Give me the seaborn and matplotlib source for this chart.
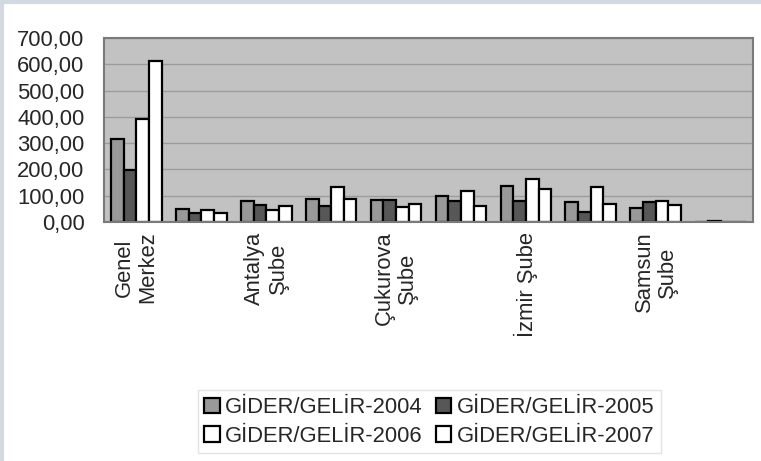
import numpy as np
import pandas as pd
import matplotlib as mpl
mpl.use("Agg")
from matplotlib import pyplot as plt
import seaborn as sns

sns.set_style("white")
plt.rcParams['font.family'] = ['Liberation Sans', 'DejaVu Sans']

# categories (only every other label is shown, as in the original chart)
categories = ["Genel\nMerkez", "Ankara Şube", "Antalya\nŞube", "Bursa Şube",
              "Çukurova\nŞube", "İstanbul Şube", "İzmir Şube", "Kocaeli Şube",
              "Samsun\nŞube", "Trabzon Şube"]
series = ["GİDER/GELİR-2004", "GİDER/GELİR-2005", "GİDER/GELİR-2006", "GİDER/GELİR-2007"]
v2004 = [315, 48, 79, 86, 85, 99, 137, 76, 53, 0]
v2005 = [197, 36, 66, 61, 85, 81, 81, 38, 76, 5]
v2006 = [393, 45, 47, 134, 57, 117, 162, 132, 79, 0]
v2007 = [611, 34, 61, 89, 67, 61, 126, 70, 64, 0]
yticks = [0, 100, 200, 300, 400, 500, 600, 700]

df = pd.DataFrame({
    'category': categories * 4,
    'series': [s for s in series for _ in categories],
    'value': v2004 + v2005 + v2006 + v2007,
})

fig = plt.figure(figsize=(7.61, 4.61), dpi=100)
ax = fig.add_axes([0.1367, 0.5184, 0.8528, 0.3992])
palette = ['#999999', '#575757', 'white', 'white']
sns.barplot(data=df, x='category', y='value', hue='series', palette=palette,
            width=0.78, edgecolor='black', linewidth=1.6, ax=ax)

ax.set_facecolor('#c2c2c2')
ax.set_ylim(0, 700)
ax.set_xlim(-0.5, len(categories) - 0.5)
ax.set_yticks(yticks)
ax.set_yticklabels([f"{t:.2f}".replace('.', ',') for t in yticks], fontsize=15.8)
ax.yaxis.grid(True, color='#9c9c9c', linewidth=1.0)
ax.set_axisbelow(True)
ax.tick_params(axis='y', length=0, pad=14)

ax.set_xticks(range(len(categories)))
ax.set_xticklabels([c if i % 2 == 0 else '' for i, c in enumerate(categories)],
                   rotation=90, fontsize=15.8, linespacing=1.15)
for t in ax.get_xticklabels():
    t.set_va('top')
    t.set_ha('center')
    t.set_multialignment('center')
ax.set_xticks(np.arange(-0.5, len(categories)), minor=True)
ax.tick_params(axis='x', which='major', length=0, pad=7)
ax.tick_params(axis='x', which='minor', length=5, color='#8a8a8a', width=1)
ax.set_xlabel('')
ax.set_ylabel('')
for sp in ax.spines.values():
    sp.set_color('#7a7a7a')
    sp.set_linewidth(1.5)

ax.legend_.remove()
handles, labels = ax.get_legend_handles_labels()
order = [0, 2, 1, 3]  # fill the legend row by row
leg = fig.legend([handles[i] for i in order], [labels[i] for i in order],
                 loc='center', bbox_to_anchor=(0.564, 0.085),
                 ncol=2, fontsize=15.8, frameon=True, fancybox=False,
                 handlelength=0.7, handleheight=0.7, handletextpad=0.25,
                 columnspacing=0.6, labelspacing=0.35, borderpad=0.3)
leg.get_frame().set_edgecolor('#dcdcdc')
leg.get_frame().set_linewidth(1.0)

# thin light frame at top and left of the picture
fig.add_artist(plt.Line2D([0, 1], [0.996, 0.996], transform=fig.transFigure, color='#d3d9e2', linewidth=3))
fig.add_artist(plt.Line2D([0.002, 0.002], [0, 1], transform=fig.transFigure, color='#d3d9e2', linewidth=3))

fig.savefig('out.png', dpi=100)
